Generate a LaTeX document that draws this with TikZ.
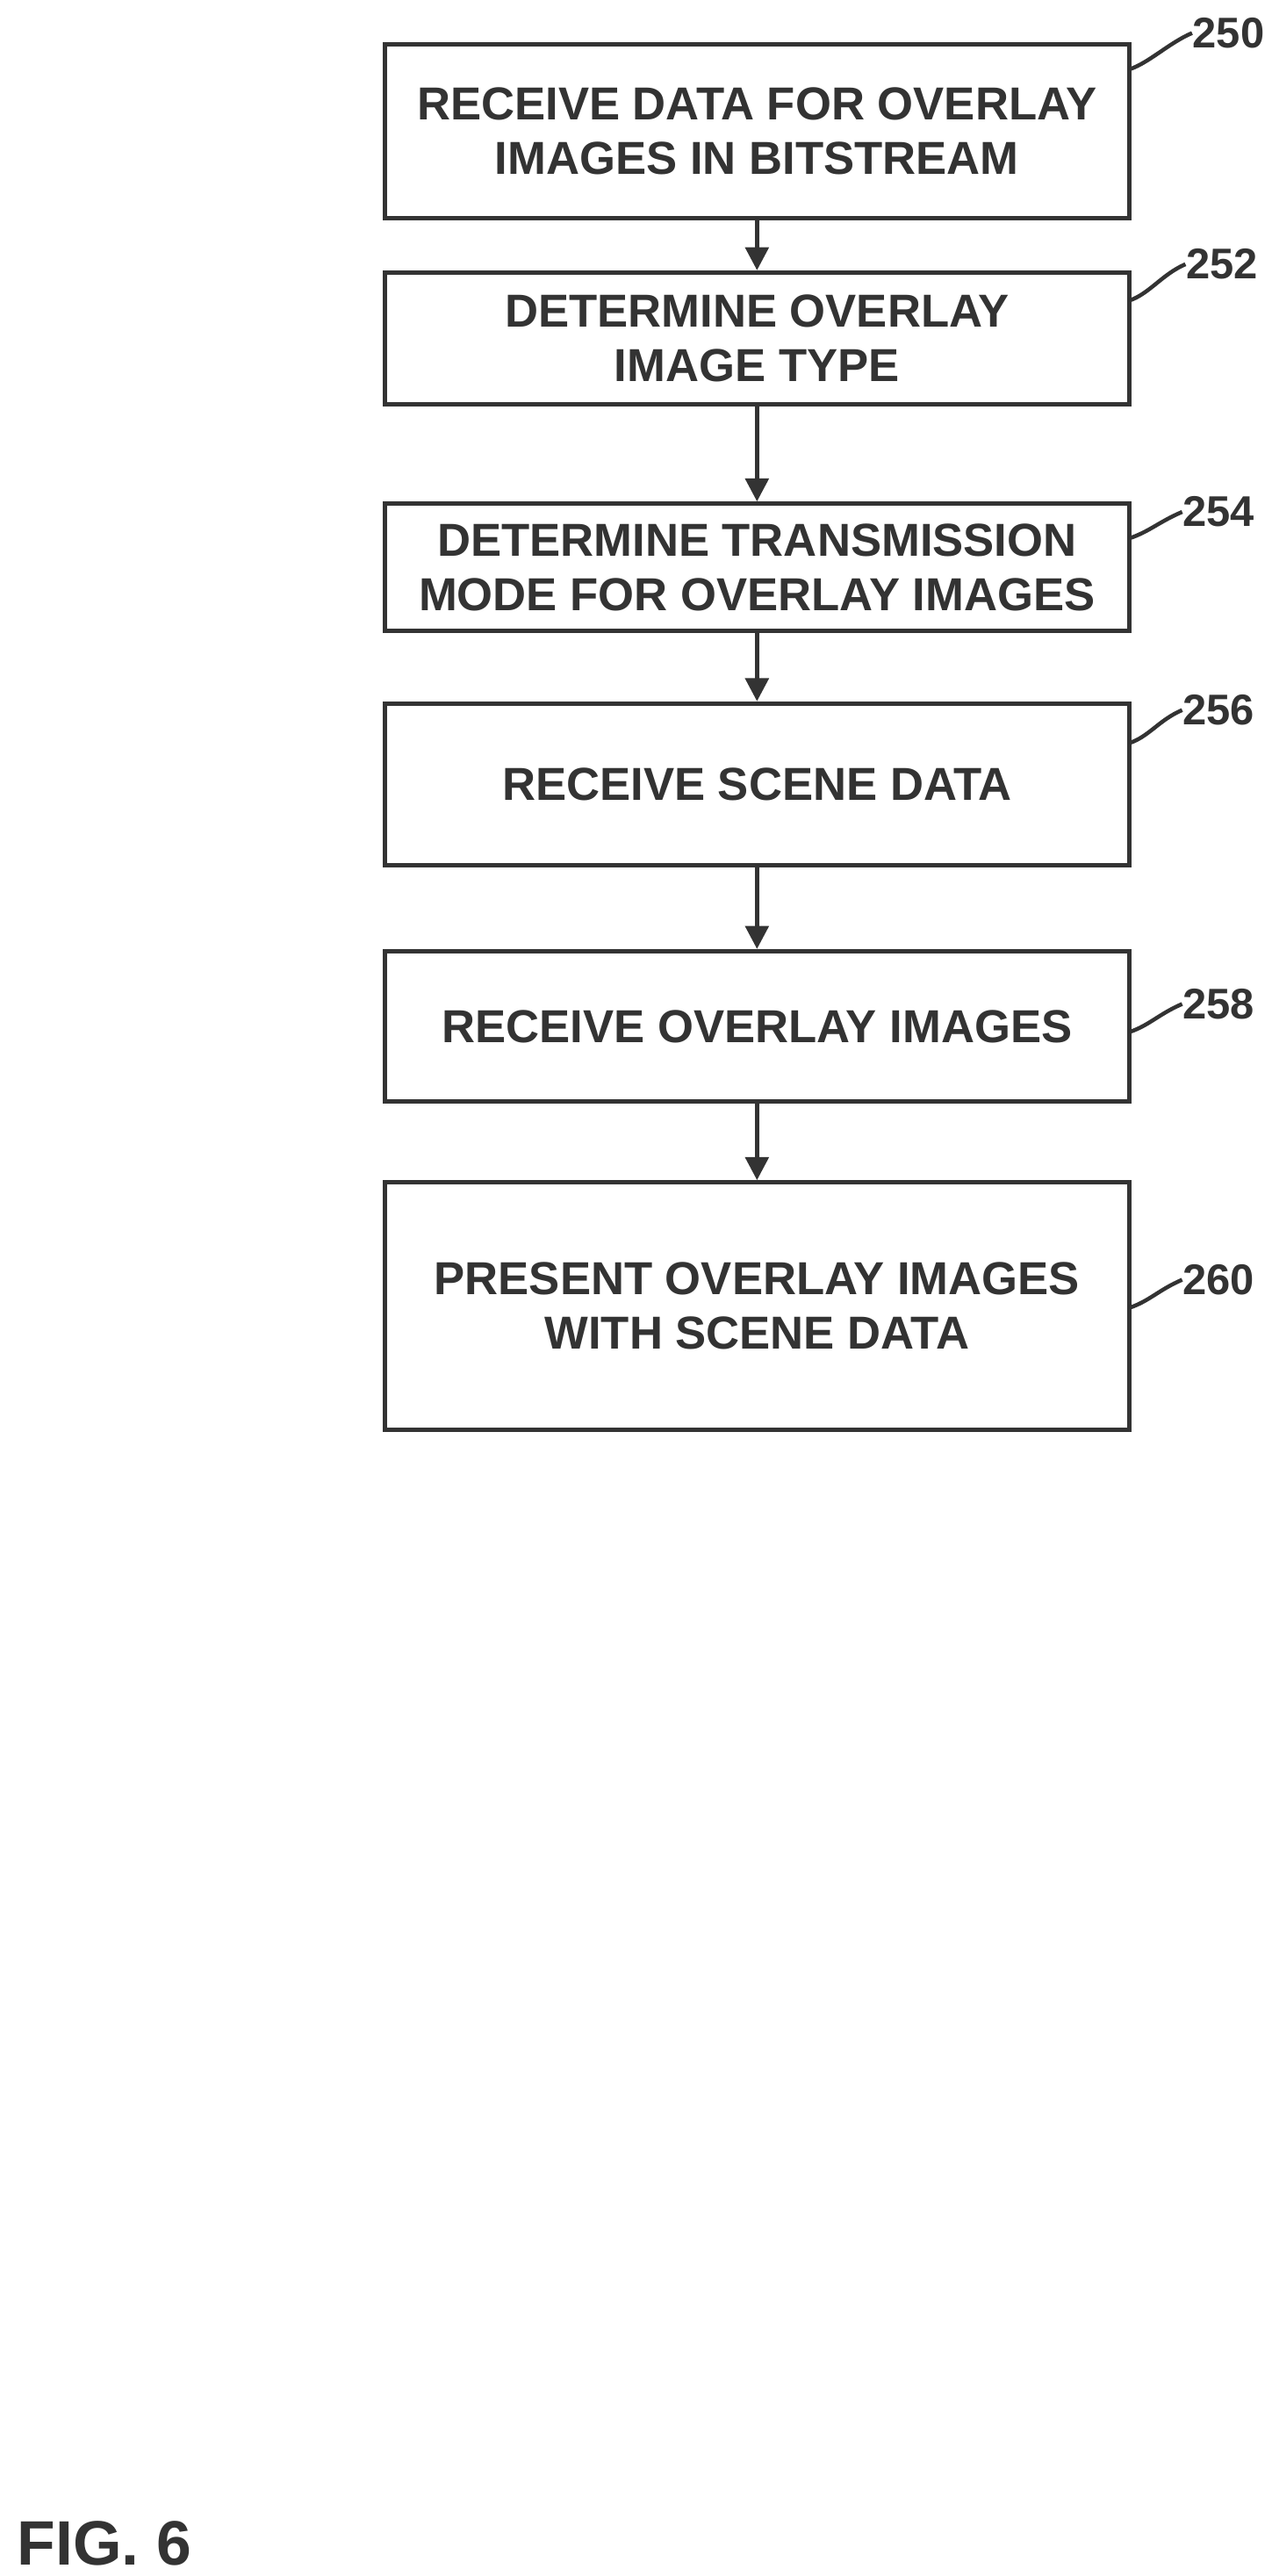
\documentclass[tikz,border=0pt]{standalone}
\usepackage{fontspec}
\setmainfont{Liberation Sans}
\usetikzlibrary{arrows.meta}
\begin{document}
\begin{tikzpicture}[x=0.5pt,y=-0.5pt,
  box/.style={draw=black!80,line width=1.3pt,inner sep=0pt,align=center,font=\bfseries\fontsize{14}{16.5}\selectfont,text=black!80},
  arr/.style={draw=black!80,line width=1.3pt,-{Triangle[length=7pt,width=7pt]}},
  lead/.style={draw=black!80,line width=1.2pt},
  lab/.style={font=\bfseries\fontsize{13}{15}\selectfont,text=black!80,anchor=west,inner sep=0pt}]
\useasboundingbox (0,0) rectangle (770,1560);
\node[box,minimum width=451pt*0.5,minimum height=105pt*0.5] (b1) at (458.5,79.5) {RECEIVE DATA FOR OVERLAY\\IMAGES IN BITSTREAM};
\node[box,minimum width=451pt*0.5,minimum height=80pt*0.5] (b2) at (458.5,205) {DETERMINE OVERLAY\\IMAGE TYPE};
\node[box,minimum width=451pt*0.5,minimum height=77pt*0.5] (b3) at (458.5,343.5) {DETERMINE TRANSMISSION\\MODE FOR OVERLAY IMAGES};
\node[box,minimum width=451pt*0.5,minimum height=98pt*0.5] (b4) at (458.5,475) {RECEIVE SCENE DATA};
\node[box,minimum width=451pt*0.5,minimum height=91pt*0.5] (b5) at (458.5,621.5) {RECEIVE OVERLAY IMAGES};
\node[box,minimum width=451pt*0.5,minimum height=150pt*0.5] (b6) at (458.5,791) {PRESENT OVERLAY IMAGES\\WITH SCENE DATA};
\draw[arr] (b1) -- (b2);
\draw[arr] (b2) -- (b3);
\draw[arr] (b3) -- (b4);
\draw[arr] (b4) -- (b5);
\draw[arr] (b5) -- (b6);
\node[lab] (l1) at (722,20) {250};
\node[lab] (l2) at (718,160) {252};
\node[lab] (l3) at (716,310) {254};
\node[lab] (l4) at (716,430) {256};
\node[lab] (l5) at (716,608) {258};
\node[lab] (l6) at (716,775) {260};
\coordinate (c1) at (684,42); \coordinate (c2) at (684,182);
\coordinate (c3) at (684,326); \coordinate (c4) at (684,450);
\coordinate (c5) at (684,625); \coordinate (c6) at (684,792);
\foreach \i in {1,...,6}{\draw[lead] (c\i) .. controls +(12,-4) and +(-14,6) .. (l\i.west);}
\node[font=\bfseries\fontsize{19}{22}\selectfont,text=black!80,anchor=west,inner sep=0pt] (fig) at (10,1540) {FIG. 6};
\end{tikzpicture}
\end{document}
